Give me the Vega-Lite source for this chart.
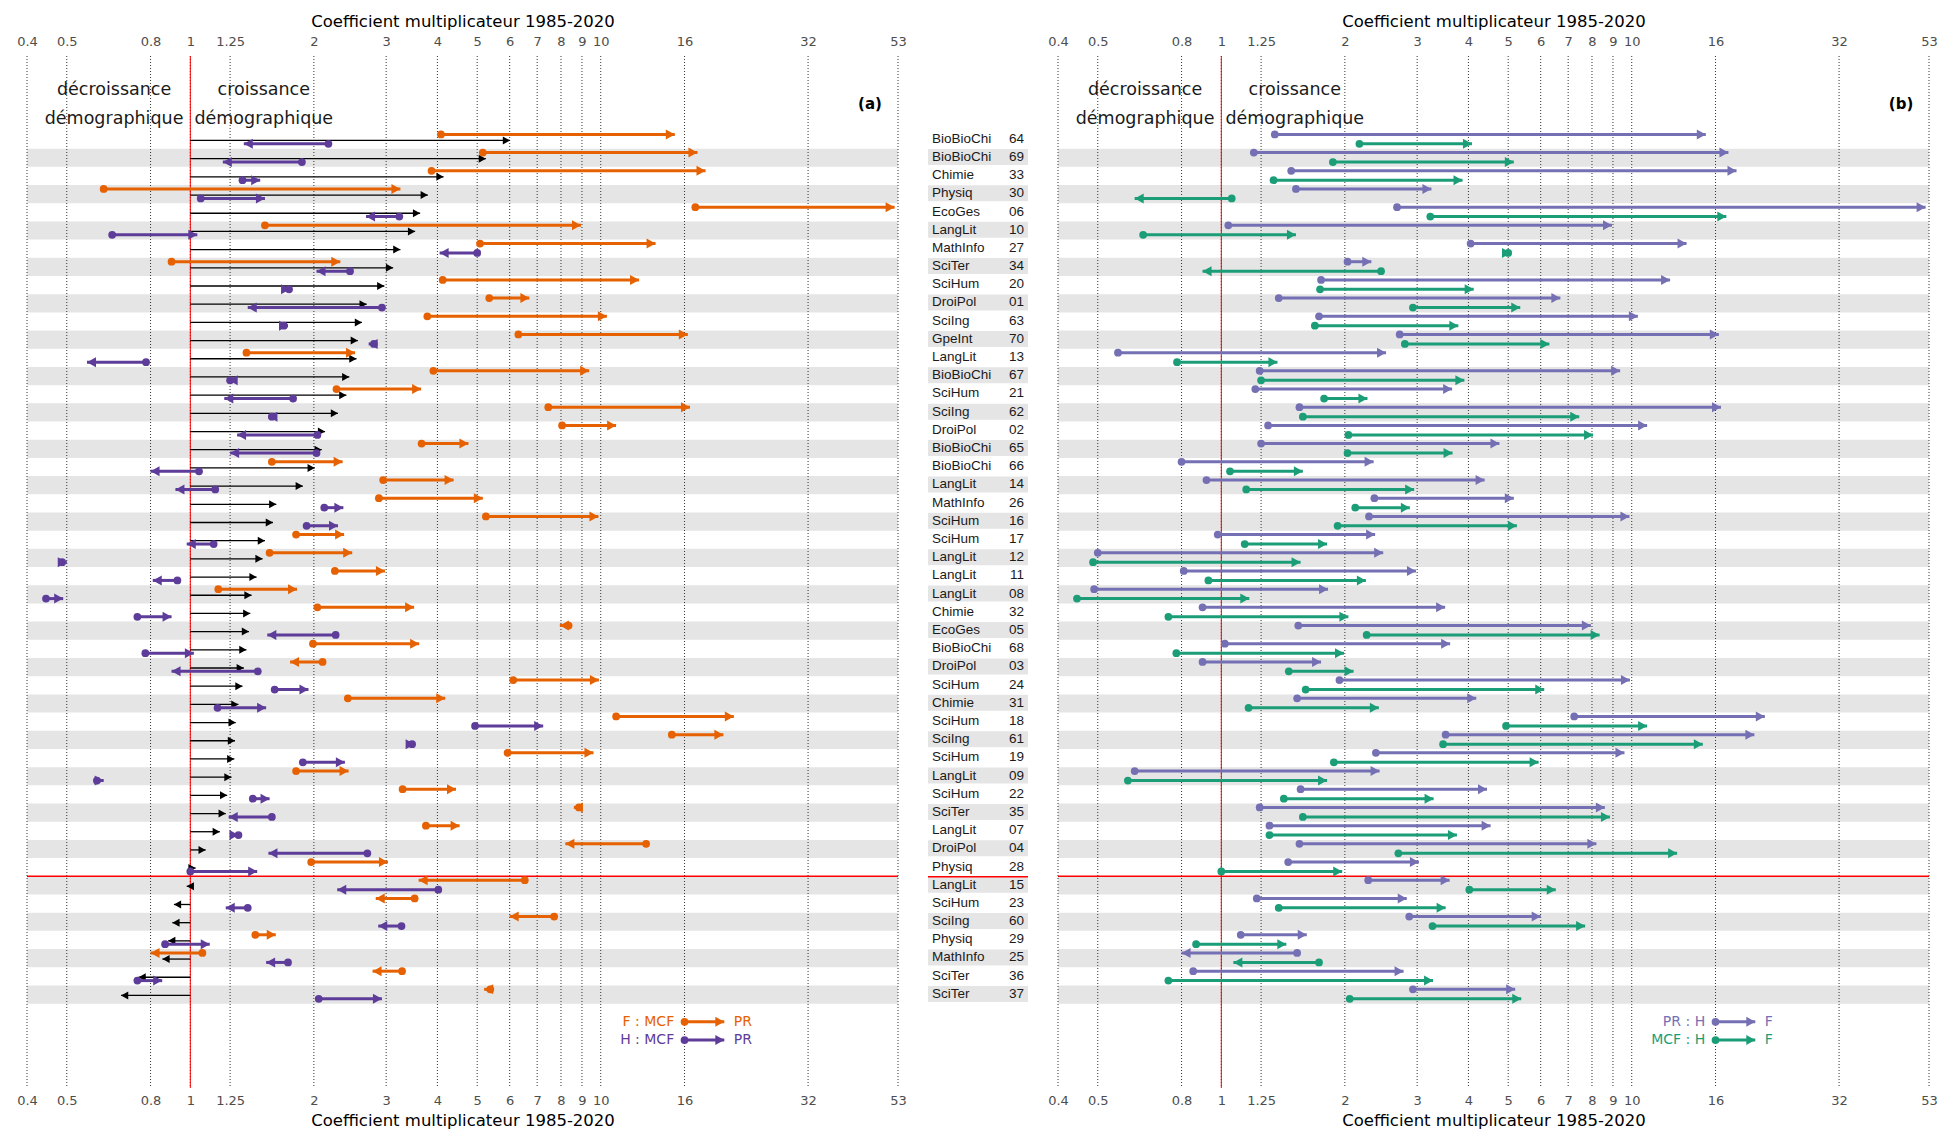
{
"$schema": "https://vega.github.io/schema/vega-lite/v6.json",
"padding": {"left": 16, "top": 13, "right": 5, "bottom": 0},
"config": {"view": {"stroke": null}, "font": "DejaVu Sans"},
"spacing": 30,
"bounds": "flush",
"resolve": {"scale": {"color": "independent", "y": "independent", "x": "independent"}},
"datasets": {
"rows": [
{"name":"BioBioChi","code":"64","D":6.01,"FM":4.08,"FP":15.15,"HM":2.17,"HP":1.35},
{"name":"BioBioChi","code":"69","D":5.25,"FM":5.16,"FP":17.2,"HM":1.87,"HP":1.2},
{"name":"Chimie","code":"33","D":4.14,"FM":3.87,"FP":18.0,"HM":1.34,"HP":1.48},
{"name":"Physiq","code":"30","D":3.79,"FM":0.615,"FP":3.25,"HM":1.06,"HP":1.52},
{"name":"EcoGes","code":"06","D":3.63,"FM":17.0,"FP":52.0,"HM":3.23,"HP":2.68},
{"name":"LangLit","code":"10","D":3.53,"FM":1.52,"FP":8.95,"HM":0.645,"HP":1.04},
{"name":"MathInfo","code":"27","D":3.25,"FM":5.08,"FP":13.6,"HM":5.0,"HP":4.05},
{"name":"SciTer","code":"34","D":3.12,"FM":0.9,"FP":2.32,"HM":2.45,"HP":2.03},
{"name":"SciHum","code":"20","D":2.97,"FM":4.12,"FP":12.4,"HM":1.74,"HP":1.75},
{"name":"DroiPol","code":"01","D":2.69,"FM":5.35,"FP":6.7,"HM":2.93,"HP":1.38},
{"name":"SciIng","code":"63","D":2.62,"FM":3.78,"FP":10.35,"HM":1.69,"HP":1.73},
{"name":"GpeInt","code":"70","D":2.56,"FM":6.3,"FP":16.3,"HM":2.8,"HP":2.72},
{"name":"LangLit","code":"13","D":2.54,"FM":1.37,"FP":2.52,"HM":0.78,"HP":0.56},
{"name":"BioBioChi","code":"67","D":2.44,"FM":3.91,"FP":9.37,"HM":1.25,"HP":1.24},
{"name":"SciHum","code":"21","D":2.4,"FM":2.27,"FP":3.65,"HM":1.78,"HP":1.21},
{"name":"SciIng","code":"62","D":2.29,"FM":7.45,"FP":16.5,"HM":1.58,"HP":1.55},
{"name":"DroiPol","code":"02","D":2.13,"FM":8.05,"FP":10.9,"HM":2.04,"HP":1.3},
{"name":"BioBioChi","code":"65","D":2.09,"FM":3.66,"FP":4.76,"HM":2.03,"HP":1.25},
{"name":"BioBioChi","code":"66","D":2.01,"FM":1.58,"FP":2.35,"HM":1.05,"HP":0.8},
{"name":"LangLit","code":"14","D":1.88,"FM":2.95,"FP":4.38,"HM":1.15,"HP":0.92},
{"name":"MathInfo","code":"26","D":1.62,"FM":2.88,"FP":5.16,"HM":2.12,"HP":2.36},
{"name":"SciHum","code":"16","D":1.59,"FM":5.25,"FP":9.87,"HM":1.92,"HP":2.29},
{"name":"SciHum","code":"17","D":1.52,"FM":1.81,"FP":2.37,"HM":1.14,"HP":0.98},
{"name":"LangLit","code":"12","D":1.5,"FM":1.56,"FP":2.48,"HM":0.487,"HP":0.5},
{"name":"LangLit","code":"11","D":1.45,"FM":2.25,"FP":2.98,"HM":0.93,"HP":0.81},
{"name":"LangLit","code":"08","D":1.41,"FM":1.17,"FP":1.82,"HM":0.445,"HP":0.49},
{"name":"Chimie","code":"32","D":1.4,"FM":2.04,"FP":3.51,"HM":0.743,"HP":0.9},
{"name":"EcoGes","code":"05","D":1.39,"FM":8.35,"FP":7.95,"HM":2.26,"HP":1.54},
{"name":"BioBioChi","code":"68","D":1.37,"FM":1.99,"FP":3.61,"HM":0.777,"HP":1.02},
{"name":"DroiPol","code":"03","D":1.35,"FM":2.1,"FP":1.75,"HM":1.46,"HP":0.9},
{"name":"SciHum","code":"24","D":1.34,"FM":6.12,"FP":9.9,"HM":1.605,"HP":1.94},
{"name":"Chimie","code":"31","D":1.31,"FM":2.42,"FP":4.18,"HM":1.165,"HP":1.53},
{"name":"SciHum","code":"18","D":1.29,"FM":10.9,"FP":21.1,"HM":4.94,"HP":7.24},
{"name":"SciIng","code":"61","D":1.285,"FM":14.9,"FP":19.9,"HM":3.47,"HP":3.52},
{"name":"SciHum","code":"19","D":1.28,"FM":5.93,"FP":9.6,"HM":1.88,"HP":2.38},
{"name":"LangLit","code":"09","D":1.26,"FM":1.81,"FP":2.43,"HM":0.592,"HP":0.615},
{"name":"SciHum","code":"22","D":1.23,"FM":3.29,"FP":4.44,"HM":1.42,"HP":1.56},
{"name":"SciTer","code":"35","D":1.22,"FM":8.85,"FP":8.6,"HM":1.58,"HP":1.24},
{"name":"LangLit","code":"07","D":1.18,"FM":3.75,"FP":4.53,"HM":1.31,"HP":1.31},
{"name":"DroiPol","code":"04","D":1.09,"FM":12.9,"FP":8.2,"HM":2.7,"HP":1.55},
{"name":"Physiq","code":"28","D":1.03,"FM":1.97,"FP":3.03,"HM":1.0,"HP":1.455},
{"name":"LangLit","code":"15","D":0.98,"FM":6.53,"FP":3.6,"HM":4.02,"HP":2.28},
{"name":"SciHum","code":"23","D":0.912,"FM":3.52,"FP":2.83,"HM":1.38,"HP":1.22},
{"name":"SciIng","code":"60","D":0.904,"FM":7.7,"FP":6.0,"HM":3.27,"HP":2.87},
{"name":"Physiq","code":"29","D":0.883,"FM":1.44,"FP":1.615,"HM":0.868,"HP":1.115},
{"name":"MathInfo","code":"25","D":0.855,"FM":1.07,"FP":0.8,"HM":1.73,"HP":1.53},
{"name":"SciTer","code":"36","D":0.748,"FM":3.28,"FP":2.78,"HM":0.743,"HP":0.854},
{"name":"SciTer","code":"37","D":0.678,"FM":5.38,"FP":5.2,"HM":2.055,"HP":2.93}
],
"ticks": [{"v":0.4},{"v":0.5},{"v":0.8},{"v":1},{"v":1.25},{"v":2},{"v":3},{"v":4},{"v":5},{"v":6},{"v":7},{"v":8},{"v":9},{"v":10},{"v":16},{"v":32},{"v":53}],
"notes": [{"code":"t3","x":0.652,"txt":"décroissance\ndémographique"},{"code":"t3","x":1.51,"txt":"croissance\ndémographique"}],
"legA": [{"code":"b1","s":"F","lab":"F : MCF","lab2":"PR","a":16,"b":20,"la":15.1,"lb":21.1},{"code":"b2","s":"H","lab":"H : MCF","lab2":"PR","a":16,"b":20,"la":15.1,"lb":21.1}],
"legB": [{"code":"b1","s":"PR","lab":"PR : H","lab2":"F","a":16,"b":20,"la":15.1,"lb":21.1},{"code":"b2","s":"MCF","lab":"MCF : H","lab2":"F","a":16,"b":20,"la":15.1,"lb":21.1}]
},
"hconcat": [
{
"width": 871, "height": 1032,
"layer": [
{"data":{"name":"rows"},"transform":[{"window":[{"op":"row_number","as":"rn"}]},{"filter":"datum.rn % 2 == 0"}],
 "mark":{"type":"rect","color":"#e5e5e5"},
 "encoding":{"y":{"field":"code","type":"nominal","axis":null,"scale":{"domain":["t1","t2","t3","t4","64","69","33","30","06","10","27","34","20","01","63","70","13","67","21","62","02","65","66","14","26","16","17","12","11","08","32","05","68","03","24","31","18","61","19","09","22","35","07","04","28","15","23","60","29","25","36","37","b1","b2","b3","b4"],"paddingInner":0,"paddingOuter":0.366,"align":0.128}},
 "x":{"value":0},"x2":{"value":"width"}}},
{"data":{"name":"ticks"},"mark":{"type":"rule","color":"#333333","strokeDash":[1,2],"strokeWidth":1},
 "encoding":{"x":{"field":"v","type":"quantitative","scale":{"type":"log","domain":[0.4,53],"nice":false},
 "axis":{"orient":"top","values":[0.4,0.5,0.8,1,1.25,2,3,4,5,6,7,8,9,10,16,32,53],"format":"~g","title":"Coefficient multiplicateur 1985-2020","grid":false,"domain":false,"ticks":false,"labelFont":"DejaVu Sans","labelFontSize":13,"labelColor":"#4d4d4d","labelPadding":7.5,"labelOverlap":false,"labelFlush":false,"titleFont":"DejaVu Sans","titleFontSize":16.5,"titleFontWeight":"normal","titleColor":"#000000","titlePadding":6}}}},
{"data":{"values":[{"v":1}]},"mark":{"type":"rule","color":"#ff0000","strokeWidth":1},
 "encoding":{"x":{"field":"v","type":"quantitative",
 "axis":{"orient":"bottom","values":[0.4,0.5,0.8,1,1.25,2,3,4,5,6,7,8,9,10,16,32,53],"format":"~g","title":"Coefficient multiplicateur 1985-2020","grid":false,"domain":false,"ticks":false,"labelFont":"DejaVu Sans","labelFontSize":13,"labelColor":"#4d4d4d","labelPadding":6,"labelOverlap":false,"labelFlush":false,"titleFont":"DejaVu Sans","titleFontSize":16.5,"titleFontWeight":"normal","titleColor":"#000000","titlePadding":5}}}},
{"data":{"values":[{"code":"15"}]},"mark":{"type":"rule","color":"#ff0000","strokeWidth":1.5},
 "encoding":{"y":{"field":"code","type":"nominal","axis":null,"bandPosition":0}}},
{"data":{"name":"rows"},"mark":{"type":"rule","color":"#000000","strokeWidth":1.3},
 "encoding":{"y":{"field":"code","type":"nominal","axis":null,"bandPosition":0.55},
 "x":{"field":"D","type":"quantitative","axis":null},"x2":{"datum":1}}},
{"data":{"name":"rows"},"mark":{"type":"point","filled":true,"opacity":1,"strokeWidth":0,"color":"#000000"},
 "encoding":{"y":{"field":"code","type":"nominal","axis":null,"bandPosition":0.55},
 "x":{"field":"D","type":"quantitative","axis":null},
 "shape":{"condition":{"test":"datum.D < 1","value":"M0,0L1.8,-1L1.8,1Z"},"value":"M0,0L-1.8,-1L-1.8,1Z"},"size":{"value":64}}},
{"data":{"name":"rows"},"mark":{"type":"rule","color":"#e66101","strokeWidth":3},
 "encoding":{"y":{"field":"code","type":"nominal","axis":null,"bandPosition":0.215},
 "x":{"field":"FM","type":"quantitative","axis":null},"x2":{"field":"FP"}}},
{"data":{"name":"rows"},"mark":{"type":"point","filled":true,"opacity":1,"strokeWidth":0,"color":"#e66101","shape":"circle"},
 "encoding":{"y":{"field":"code","type":"nominal","axis":null,"bandPosition":0.215},
 "x":{"field":"FM","type":"quantitative","axis":null},"size":{"value":60}}},
{"data":{"name":"rows"},"mark":{"type":"point","filled":true,"opacity":1,"strokeWidth":0,"color":"#e66101"},
 "encoding":{"y":{"field":"code","type":"nominal","axis":null,"bandPosition":0.215},
 "x":{"field":"FP","type":"quantitative","axis":null},
 "shape":{"condition":{"test":"datum.FP < datum.FM","value":"M0,0L1.8,-1L1.8,1Z"},"value":"M0,0L-1.8,-1L-1.8,1Z"},"size":{"value":100}}},
{"data":{"name":"rows"},"mark":{"type":"rule","color":"#5e3c99","strokeWidth":3},
 "encoding":{"y":{"field":"code","type":"nominal","axis":null,"bandPosition":0.735},
 "x":{"field":"HM","type":"quantitative","axis":null},"x2":{"field":"HP"}}},
{"data":{"name":"rows"},"mark":{"type":"point","filled":true,"opacity":1,"strokeWidth":0,"color":"#5e3c99","shape":"circle"},
 "encoding":{"y":{"field":"code","type":"nominal","axis":null,"bandPosition":0.735},
 "x":{"field":"HM","type":"quantitative","axis":null},"size":{"value":60}}},
{"data":{"name":"rows"},"mark":{"type":"point","filled":true,"opacity":1,"strokeWidth":0,"color":"#5e3c99"},
 "encoding":{"y":{"field":"code","type":"nominal","axis":null,"bandPosition":0.735},
 "x":{"field":"HP","type":"quantitative","axis":null},
 "shape":{"condition":{"test":"datum.HP < datum.HM","value":"M0,0L1.8,-1L1.8,1Z"},"value":"M0,0L-1.8,-1L-1.8,1Z"},"size":{"value":100}}},
{"data":{"name":"notes"},"mark":{"type":"text","font":"DejaVu Sans","fontSize":17.5,"color":"#1a1a1a","align":"center","baseline":"middle","lineBreak":"\n","lineHeight":29.6,"dy":-13.5},
 "encoding":{"y":{"field":"code","type":"nominal","axis":null},"x":{"field":"x","type":"quantitative","axis":null},"text":{"field":"txt","type":"nominal"}}},
{"data":{"values":[{"code":"t3","x":45.3,"txt":"(a)"}]},"mark":{"type":"text","font":"DejaVu Sans","fontSize":15,"fontWeight":"bold","color":"#000000","align":"center","baseline":"middle","dy":1},
 "encoding":{"y":{"field":"code","type":"nominal","axis":null},"x":{"field":"x","type":"quantitative","axis":null},"text":{"field":"txt","type":"nominal"}}},
{"data":{"name":"legA"},"mark":{"type":"rule","strokeWidth":3},
 "encoding":{"y":{"field":"code","type":"nominal","axis":null,"bandPosition":1},"x":{"field":"a","type":"quantitative","axis":null},"x2":{"field":"b"},
 "color":{"field":"s","type":"nominal","scale":{"domain":["F","H"],"range":["#e66101","#5e3c99"]},"legend":null}}},
{"data":{"name":"legA"},"mark":{"type":"point","filled":true,"opacity":1,"strokeWidth":0,"shape":"circle","size":60},
 "encoding":{"y":{"field":"code","type":"nominal","axis":null,"bandPosition":1},"x":{"field":"a","type":"quantitative","axis":null},
 "color":{"field":"s","type":"nominal","legend":null}}},
{"data":{"name":"legA"},"mark":{"type":"point","filled":true,"opacity":1,"strokeWidth":0,"shape":"M0,0L-1.8,-1L-1.8,1Z","size":100},
 "encoding":{"y":{"field":"code","type":"nominal","axis":null,"bandPosition":1},"x":{"field":"b","type":"quantitative","axis":null},
 "color":{"field":"s","type":"nominal","legend":null}}},
{"data":{"name":"legA"},"mark":{"type":"text","font":"DejaVu Sans","fontSize":14,"align":"right","baseline":"middle"},
 "encoding":{"y":{"field":"code","type":"nominal","axis":null,"bandPosition":1},"x":{"field":"la","type":"quantitative","axis":null},"text":{"field":"lab","type":"nominal"},
 "color":{"field":"s","type":"nominal","legend":null}}},
{"data":{"name":"legA"},"mark":{"type":"text","font":"DejaVu Sans","fontSize":14,"align":"left","baseline":"middle"},
 "encoding":{"y":{"field":"code","type":"nominal","axis":null,"bandPosition":1},"x":{"field":"lb","type":"quantitative","axis":null},"text":{"field":"lab2","type":"nominal"},
 "color":{"field":"s","type":"nominal","legend":null}}}
]
},
{
"width": 100, "height": 1032,
"layer": [
{"data":{"name":"rows"},"transform":[{"window":[{"op":"row_number","as":"rn"}]},{"filter":"datum.rn % 2 == 0"}],
 "mark":{"type":"rect","color":"#e5e5e5"},
 "encoding":{"y":{"field":"code","type":"nominal","axis":null,"scale":{"domain":["t1","t2","t3","t4","64","69","33","30","06","10","27","34","20","01","63","70","13","67","21","62","02","65","66","14","26","16","17","12","11","08","32","05","68","03","24","31","18","61","19","09","22","35","07","04","28","15","23","60","29","25","36","37","b1","b2","b3","b4"],"paddingInner":0.12,"paddingOuter":0.42,"align":0.128}},
 "x":{"value":0},"x2":{"value":"width"}}},
{"data":{"values":[{"code":"15"}]},"mark":{"type":"rule","color":"#ff0000","strokeWidth":1.5},
 "encoding":{"y":{"field":"code","type":"nominal","axis":null,"bandPosition":0}}},
{"data":{"name":"rows"},"mark":{"type":"text","font":"Liberation Sans","fontSize":13.5,"color":"#1a1a1a","align":"left","baseline":"middle","dx":4,"dy":0},
 "encoding":{"y":{"field":"code","type":"nominal","axis":null},"x":{"value":0},"text":{"field":"name","type":"nominal"}}},
{"data":{"name":"rows"},"mark":{"type":"text","font":"Liberation Sans","fontSize":13.5,"color":"#1a1a1a","align":"right","baseline":"middle","dx":-4,"dy":0},
 "encoding":{"y":{"field":"code","type":"nominal","axis":null},"x":{"value":"width"},"text":{"field":"code","type":"nominal"}}}
]
},
{
"width": 871, "height": 1032,
"layer": [
{"data":{"name":"rows"},"transform":[{"window":[{"op":"row_number","as":"rn"}]},{"filter":"datum.rn % 2 == 0"}],
 "mark":{"type":"rect","color":"#e5e5e5"},
 "encoding":{"y":{"field":"code","type":"nominal","axis":null,"scale":{"domain":["t1","t2","t3","t4","64","69","33","30","06","10","27","34","20","01","63","70","13","67","21","62","02","65","66","14","26","16","17","12","11","08","32","05","68","03","24","31","18","61","19","09","22","35","07","04","28","15","23","60","29","25","36","37","b1","b2","b3","b4"],"paddingInner":0,"paddingOuter":0.366,"align":0.128}},
 "x":{"value":0},"x2":{"value":"width"}}},
{"data":{"name":"ticks"},"mark":{"type":"rule","color":"#333333","strokeDash":[1,2],"strokeWidth":1},
 "encoding":{"x":{"field":"v","type":"quantitative","scale":{"type":"log","domain":[0.4,53],"nice":false},
 "axis":{"orient":"top","values":[0.4,0.5,0.8,1,1.25,2,3,4,5,6,7,8,9,10,16,32,53],"format":"~g","title":"Coefficient multiplicateur 1985-2020","grid":false,"domain":false,"ticks":false,"labelFont":"DejaVu Sans","labelFontSize":13,"labelColor":"#4d4d4d","labelPadding":7.5,"labelOverlap":false,"labelFlush":false,"titleFont":"DejaVu Sans","titleFontSize":16.5,"titleFontWeight":"normal","titleColor":"#000000","titlePadding":6}}}},
{"data":{"values":[{"v":1}]},"mark":{"type":"rule","color":"#ff0000","strokeWidth":1},
 "encoding":{"x":{"field":"v","type":"quantitative",
 "axis":{"orient":"bottom","values":[0.4,0.5,0.8,1,1.25,2,3,4,5,6,7,8,9,10,16,32,53],"format":"~g","title":"Coefficient multiplicateur 1985-2020","grid":false,"domain":false,"ticks":false,"labelFont":"DejaVu Sans","labelFontSize":13,"labelColor":"#4d4d4d","labelPadding":6,"labelOverlap":false,"labelFlush":false,"titleFont":"DejaVu Sans","titleFontSize":16.5,"titleFontWeight":"normal","titleColor":"#000000","titlePadding":5}}}},
{"data":{"values":[{"code":"15"}]},"mark":{"type":"rule","color":"#ff0000","strokeWidth":1.5},
 "encoding":{"y":{"field":"code","type":"nominal","axis":null,"bandPosition":0}}},
{"data":{"name":"rows"},"mark":{"type":"rule","color":"#7570b3","strokeWidth":3},
 "encoding":{"y":{"field":"code","type":"nominal","axis":null,"bandPosition":0.215},
 "x":{"field":"HP","type":"quantitative","axis":null},"x2":{"field":"FP"}}},
{"data":{"name":"rows"},"mark":{"type":"point","filled":true,"opacity":1,"strokeWidth":0,"color":"#7570b3","shape":"circle"},
 "encoding":{"y":{"field":"code","type":"nominal","axis":null,"bandPosition":0.215},
 "x":{"field":"HP","type":"quantitative","axis":null},"size":{"value":60}}},
{"data":{"name":"rows"},"mark":{"type":"point","filled":true,"opacity":1,"strokeWidth":0,"color":"#7570b3"},
 "encoding":{"y":{"field":"code","type":"nominal","axis":null,"bandPosition":0.215},
 "x":{"field":"FP","type":"quantitative","axis":null},
 "shape":{"condition":{"test":"datum.FP < datum.HP","value":"M0,0L1.8,-1L1.8,1Z"},"value":"M0,0L-1.8,-1L-1.8,1Z"},"size":{"value":100}}},
{"data":{"name":"rows"},"mark":{"type":"rule","color":"#1b9e77","strokeWidth":3},
 "encoding":{"y":{"field":"code","type":"nominal","axis":null,"bandPosition":0.735},
 "x":{"field":"HM","type":"quantitative","axis":null},"x2":{"field":"FM"}}},
{"data":{"name":"rows"},"mark":{"type":"point","filled":true,"opacity":1,"strokeWidth":0,"color":"#1b9e77","shape":"circle"},
 "encoding":{"y":{"field":"code","type":"nominal","axis":null,"bandPosition":0.735},
 "x":{"field":"HM","type":"quantitative","axis":null},"size":{"value":60}}},
{"data":{"name":"rows"},"mark":{"type":"point","filled":true,"opacity":1,"strokeWidth":0,"color":"#1b9e77"},
 "encoding":{"y":{"field":"code","type":"nominal","axis":null,"bandPosition":0.735},
 "x":{"field":"FM","type":"quantitative","axis":null},
 "shape":{"condition":{"test":"datum.FM < datum.HM","value":"M0,0L1.8,-1L1.8,1Z"},"value":"M0,0L-1.8,-1L-1.8,1Z"},"size":{"value":100}}},
{"data":{"name":"notes"},"mark":{"type":"text","font":"DejaVu Sans","fontSize":17.5,"color":"#1a1a1a","align":"center","baseline":"middle","lineBreak":"\n","lineHeight":29.6,"dy":-13.5},
 "encoding":{"y":{"field":"code","type":"nominal","axis":null},"x":{"field":"x","type":"quantitative","axis":null},"text":{"field":"txt","type":"nominal"}}},
{"data":{"values":[{"code":"t3","x":45.3,"txt":"(b)"}]},"mark":{"type":"text","font":"DejaVu Sans","fontSize":15,"fontWeight":"bold","color":"#000000","align":"center","baseline":"middle","dy":1},
 "encoding":{"y":{"field":"code","type":"nominal","axis":null},"x":{"field":"x","type":"quantitative","axis":null},"text":{"field":"txt","type":"nominal"}}},
{"data":{"name":"legB"},"mark":{"type":"rule","strokeWidth":3},
 "encoding":{"y":{"field":"code","type":"nominal","axis":null,"bandPosition":1},"x":{"field":"a","type":"quantitative","axis":null},"x2":{"field":"b"},
 "color":{"field":"s","type":"nominal","scale":{"domain":["PR","MCF"],"range":["#7570b3","#1b9e77"]},"legend":null}}},
{"data":{"name":"legB"},"mark":{"type":"point","filled":true,"opacity":1,"strokeWidth":0,"shape":"circle","size":60},
 "encoding":{"y":{"field":"code","type":"nominal","axis":null,"bandPosition":1},"x":{"field":"a","type":"quantitative","axis":null},
 "color":{"field":"s","type":"nominal","legend":null}}},
{"data":{"name":"legB"},"mark":{"type":"point","filled":true,"opacity":1,"strokeWidth":0,"shape":"M0,0L-1.8,-1L-1.8,1Z","size":100},
 "encoding":{"y":{"field":"code","type":"nominal","axis":null,"bandPosition":1},"x":{"field":"b","type":"quantitative","axis":null},
 "color":{"field":"s","type":"nominal","legend":null}}},
{"data":{"name":"legB"},"mark":{"type":"text","font":"DejaVu Sans","fontSize":14,"align":"right","baseline":"middle"},
 "encoding":{"y":{"field":"code","type":"nominal","axis":null,"bandPosition":1},"x":{"field":"la","type":"quantitative","axis":null},"text":{"field":"lab","type":"nominal"},
 "color":{"field":"s","type":"nominal","legend":null}}},
{"data":{"name":"legB"},"mark":{"type":"text","font":"DejaVu Sans","fontSize":14,"align":"left","baseline":"middle"},
 "encoding":{"y":{"field":"code","type":"nominal","axis":null,"bandPosition":1},"x":{"field":"lb","type":"quantitative","axis":null},"text":{"field":"lab2","type":"nominal"},
 "color":{"field":"s","type":"nominal","legend":null}}}
]
}
]
}
